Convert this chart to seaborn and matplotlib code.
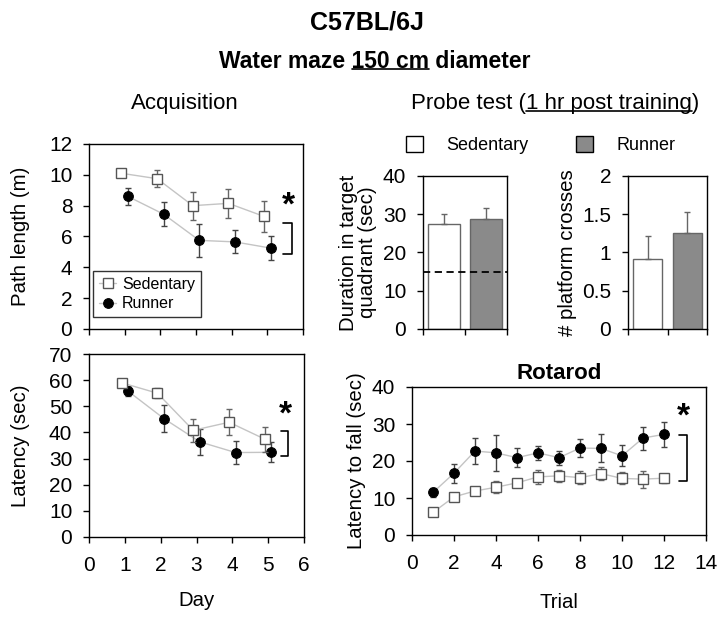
import numpy as np
import pandas as pd
import matplotlib
matplotlib.use('Agg')
import matplotlib.pyplot as plt
import seaborn as sns
from matplotlib.patches import Patch

sns.set_theme(style='ticks')
plt.rcParams['font.family'] = ['Liberation Sans', 'DejaVu Sans']
plt.rcParams['text.color'] = 'black'
plt.rcParams['axes.labelcolor'] = 'black'
plt.rcParams['xtick.color'] = 'black'
plt.rcParams['ytick.color'] = 'black'
plt.rcParams['axes.linewidth'] = 1.0
plt.rcParams['axes.edgecolor'] = 'black'
plt.rcParams['xtick.direction'] = 'out'
plt.rcParams['ytick.direction'] = 'out'
plt.rcParams['xtick.major.size'] = 4
plt.rcParams['ytick.major.size'] = 4
plt.rcParams['xtick.major.pad'] = 10
plt.rcParams['ytick.major.pad'] = 8
plt.rcParams['xtick.labelsize'] = 15
plt.rcParams['ytick.labelsize'] = 15
plt.rcParams['axes.labelsize'] = 14.7

# acquisition, water maze
days = [1, 2, 3, 4, 5]
path_sed = [10.1, 9.75, 8.0, 8.15, 7.3]
path_sed_err = [0.1, 0.55, 0.9, 0.95, 1.0]
path_run = [8.6, 7.45, 5.75, 5.65, 5.25]
path_run_err = [0.55, 0.8, 1.05, 0.75, 0.75]

lat_sed = [59.0, 55.0, 40.8, 43.9, 37.4]
lat_sed_err = [1.0, 2.0, 4.3, 5.0, 4.7]
lat_run = [55.8, 45.3, 36.4, 32.3, 32.4]
lat_run_err = [2.0, 5.2, 5.1, 4.3, 3.8]

# probe test
groups = ['Sedentary', 'Runner']
duration = [27.4, 28.8]
duration_err = [2.6, 2.8]
chance = 15
crosses = [0.92, 1.25]
crosses_err = [0.29, 0.28]

# rotarod
trials = list(range(1, 13))
rot_sed = [6.1, 10.3, 11.9, 12.9, 14.1, 15.7, 16.0, 15.5, 16.6, 15.3, 15.1, 15.35]
rot_sed_err = [0.5, 0.6, 1.0, 1.6, 0.8, 1.9, 1.6, 1.7, 1.8, 1.6, 2.3, 1.2]
rot_run = [11.5, 16.7, 22.7, 22.2, 20.9, 22.2, 20.9, 23.5, 23.4, 21.4, 26.2, 27.2]
rot_run_err = [1.2, 2.6, 3.6, 4.8, 2.5, 1.8, 1.9, 2.4, 3.8, 2.8, 3.1, 3.3]

LINE = '#c4c4c4'
SED_EDGE = '#555555'
RUN_BAR = '#8a8a8a'

fig = plt.figure(figsize=(7.25, 6.23), dpi=100)
W, H = 725, 623


def px_axes(l, t, r, b):
    return fig.add_axes([l / W, 1 - b / H, (r - l) / W, (b - t) / H])


ax_path = px_axes(89, 144, 303, 329)
ax_lat = px_axes(89, 354, 304, 537)
ax_dur = px_axes(423, 176, 507, 329)
ax_cross = px_axes(628, 176, 707, 329)
ax_rot = px_axes(412, 387, 706, 535)


def group_lines(ax, x, sed, sed_err, run, run_err, off):
    xs = np.array(x) - off
    xr = np.array(x) + off
    ax.errorbar(xr, run, yerr=run_err, fmt='none', ecolor='#444444',
                elinewidth=1, capsize=2.5, capthick=1, zorder=2)
    sns.lineplot(x=xr, y=run, ax=ax, color=LINE, lw=1, marker='o', ms=7,
                 mfc='black', mec='black', label='Runner', zorder=3)
    ax.errorbar(xs, sed, yerr=sed_err, fmt='none', ecolor='#666666',
                elinewidth=1, capsize=2.5, capthick=1, zorder=4)
    sns.lineplot(x=xs, y=sed, ax=ax, color=LINE, lw=1, marker='s', ms=6.5,
                 mfc='white', mec=SED_EDGE, mew=1, label='Sedentary', zorder=5)


def bracket(ax, x0, x1, y0, y1, star_y):
    ax.plot([x0, x1, x1, x0], [y1, y1, y0, y0], color='black', lw=1.2,
            clip_on=False)
    ax.text((x0 + x1) / 2 + 0.1 * (x1 - x0), star_y, '*', fontsize=24,
            fontweight='bold', ha='center', va='center', clip_on=False)


# path length
group_lines(ax_path, days, path_sed, path_sed_err, path_run, path_run_err, 0.09)
ax_path.set_xlim(0, 6)
ax_path.set_ylim(0, 12)
ax_path.set_xticks(range(7))
ax_path.set_xticklabels([])
ax_path.set_yticks(range(0, 13, 2))
ax_path.set_ylabel('Path length (m)', labelpad=14)
ax_path.set_xlabel('')
h, l = ax_path.get_legend_handles_labels()
leg = ax_path.legend(h[::-1], l[::-1], loc='lower left',
                     bbox_to_anchor=(0.02, 0.065), borderaxespad=0,
                     fontsize=11.5, frameon=True, fancybox=False,
                     edgecolor='black', handlelength=1.1, handletextpad=0.35,
                     labelspacing=0.3, borderpad=0.35)
leg.get_frame().set_linewidth(1)
bracket(ax_path, 5.45, 5.68, 4.85, 6.9, 8.0)

# latency
group_lines(ax_lat, days, lat_sed, lat_sed_err, lat_run, lat_run_err, 0.09)
ax_lat.legend().remove()
ax_lat.set_xlim(0, 6)
ax_lat.set_ylim(0, 70)
ax_lat.set_xticks(range(7))
ax_lat.set_yticks(range(0, 71, 10))
ax_lat.set_ylabel('Latency (sec)', labelpad=14)
ax_lat.set_xlabel('Day', labelpad=11)
bracket(ax_lat, 5.36, 5.55, 31, 40.6, 46.5)

# probe bars
for ax, vals, errs in [(ax_dur, duration, duration_err),
                       (ax_cross, crosses, crosses_err)]:
    df = pd.DataFrame({'group': groups, 'value': vals})
    sns.barplot(data=df, x='group', y='value', hue='group', ax=ax,
                palette={'Sedentary': 'white', 'Runner': RUN_BAR},
                edgecolor='#666666', linewidth=1, width=0.74, legend=False)
    ax.errorbar([0, 1], vals, yerr=[[0, 0], errs], fmt='none',
                ecolor='#666666', elinewidth=1, capsize=2.5, capthick=1)
    ax.set_xlim(-0.5, 1.5)
    ax.set_xticks([-0.5, 0.5, 1.5])
    ax.set_xticklabels([])
    ax.set_xlabel('')

ax_dur.axhline(chance, color='black', lw=1.3, ls=(0, (4, 2.5)))
ax_dur.set_ylim(0, 40)
ax_dur.set_yticks(range(0, 41, 10))
ax_dur.set_ylabel('Duration in target\nquadrant (sec)', linespacing=1.0)
ax_cross.set_ylim(0, 2)
ax_cross.set_yticks([0, 0.5, 1, 1.5, 2])
ax_cross.set_yticklabels(['0', '0.5', '1', '1.5', '2'])
ax_cross.set_ylabel('# platform crosses')

fig.legend(handles=[Patch(facecolor='white', edgecolor='black', lw=1),
                    Patch(facecolor=RUN_BAR, edgecolor='black', lw=1)],
           labels=groups, loc='center left', bbox_to_anchor=(406 / W, 1 - 145 / H),
           ncol=2, frameon=False, fontsize=13, handlelength=0.95,
           handleheight=0.95, handletextpad=1.3, columnspacing=2.6,
           borderpad=0, borderaxespad=0)

# rotarod
group_lines(ax_rot, trials, rot_sed, rot_sed_err, rot_run, rot_run_err, 0.0)
ax_rot.legend().remove()
ax_rot.set_xlim(0, 14)
ax_rot.set_ylim(0, 40)
ax_rot.set_xticks(range(0, 15, 2))
ax_rot.set_yticks(range(0, 41, 10))
ax_rot.set_ylabel('Latency to fall (sec)')
ax_rot.set_xlabel('Trial', labelpad=14)
ax_rot.set_title('Rotarod', fontsize=16, fontweight='bold', pad=6)
bracket(ax_rot, 12.7, 13.1, 14.7, 26.9, 32.0)

for ax in [ax_path, ax_lat, ax_dur, ax_cross, ax_rot]:
    for s in ax.spines.values():
        s.set_visible(True)
        s.set_linewidth(1)
        s.set_color('black')
    ax.tick_params(width=1, colors='black', labelcolor='black')

# titles
r = fig.canvas.get_renderer()


def titled(xc, yc, full, under_start, under_end, **kw):
    t = fig.text(xc / W, 1 - yc / H, full, ha='center', va='center', **kw)
    bb = t.get_window_extent(r)

    def width(s):
        tt = fig.text(0, 0, s, **kw)
        w = tt.get_window_extent(r).width
        tt.remove()
        return w

    if under_start is not None:
        x0 = bb.x0 + width(full[:under_start + 1]) - width(full[under_start])
        x1 = bb.x0 + width(full[:under_end])
        yl = bb.y0 + 0.16 * bb.height
        fig.add_artist(plt.Line2D([x0 / W, x1 / W], [yl / H, yl / H],
                                  color='black', lw=1.2))


titled(367, 22, 'C57BL/6J', None, None, fontsize=18, fontweight='bold')
sub = 'Water maze 150 cm diameter'
titled(375, 61, sub, sub.index('150'), sub.index(' diameter'),
       fontsize=16.5, fontweight='bold')
titled(185, 104, 'Acquisition', None, None, fontsize=16)
probe = 'Probe test (1 hr post training)'
titled(555, 104, probe, probe.index('1 hr'), probe.index(')'), fontsize=16)

fig.savefig('out.png', dpi=100)
